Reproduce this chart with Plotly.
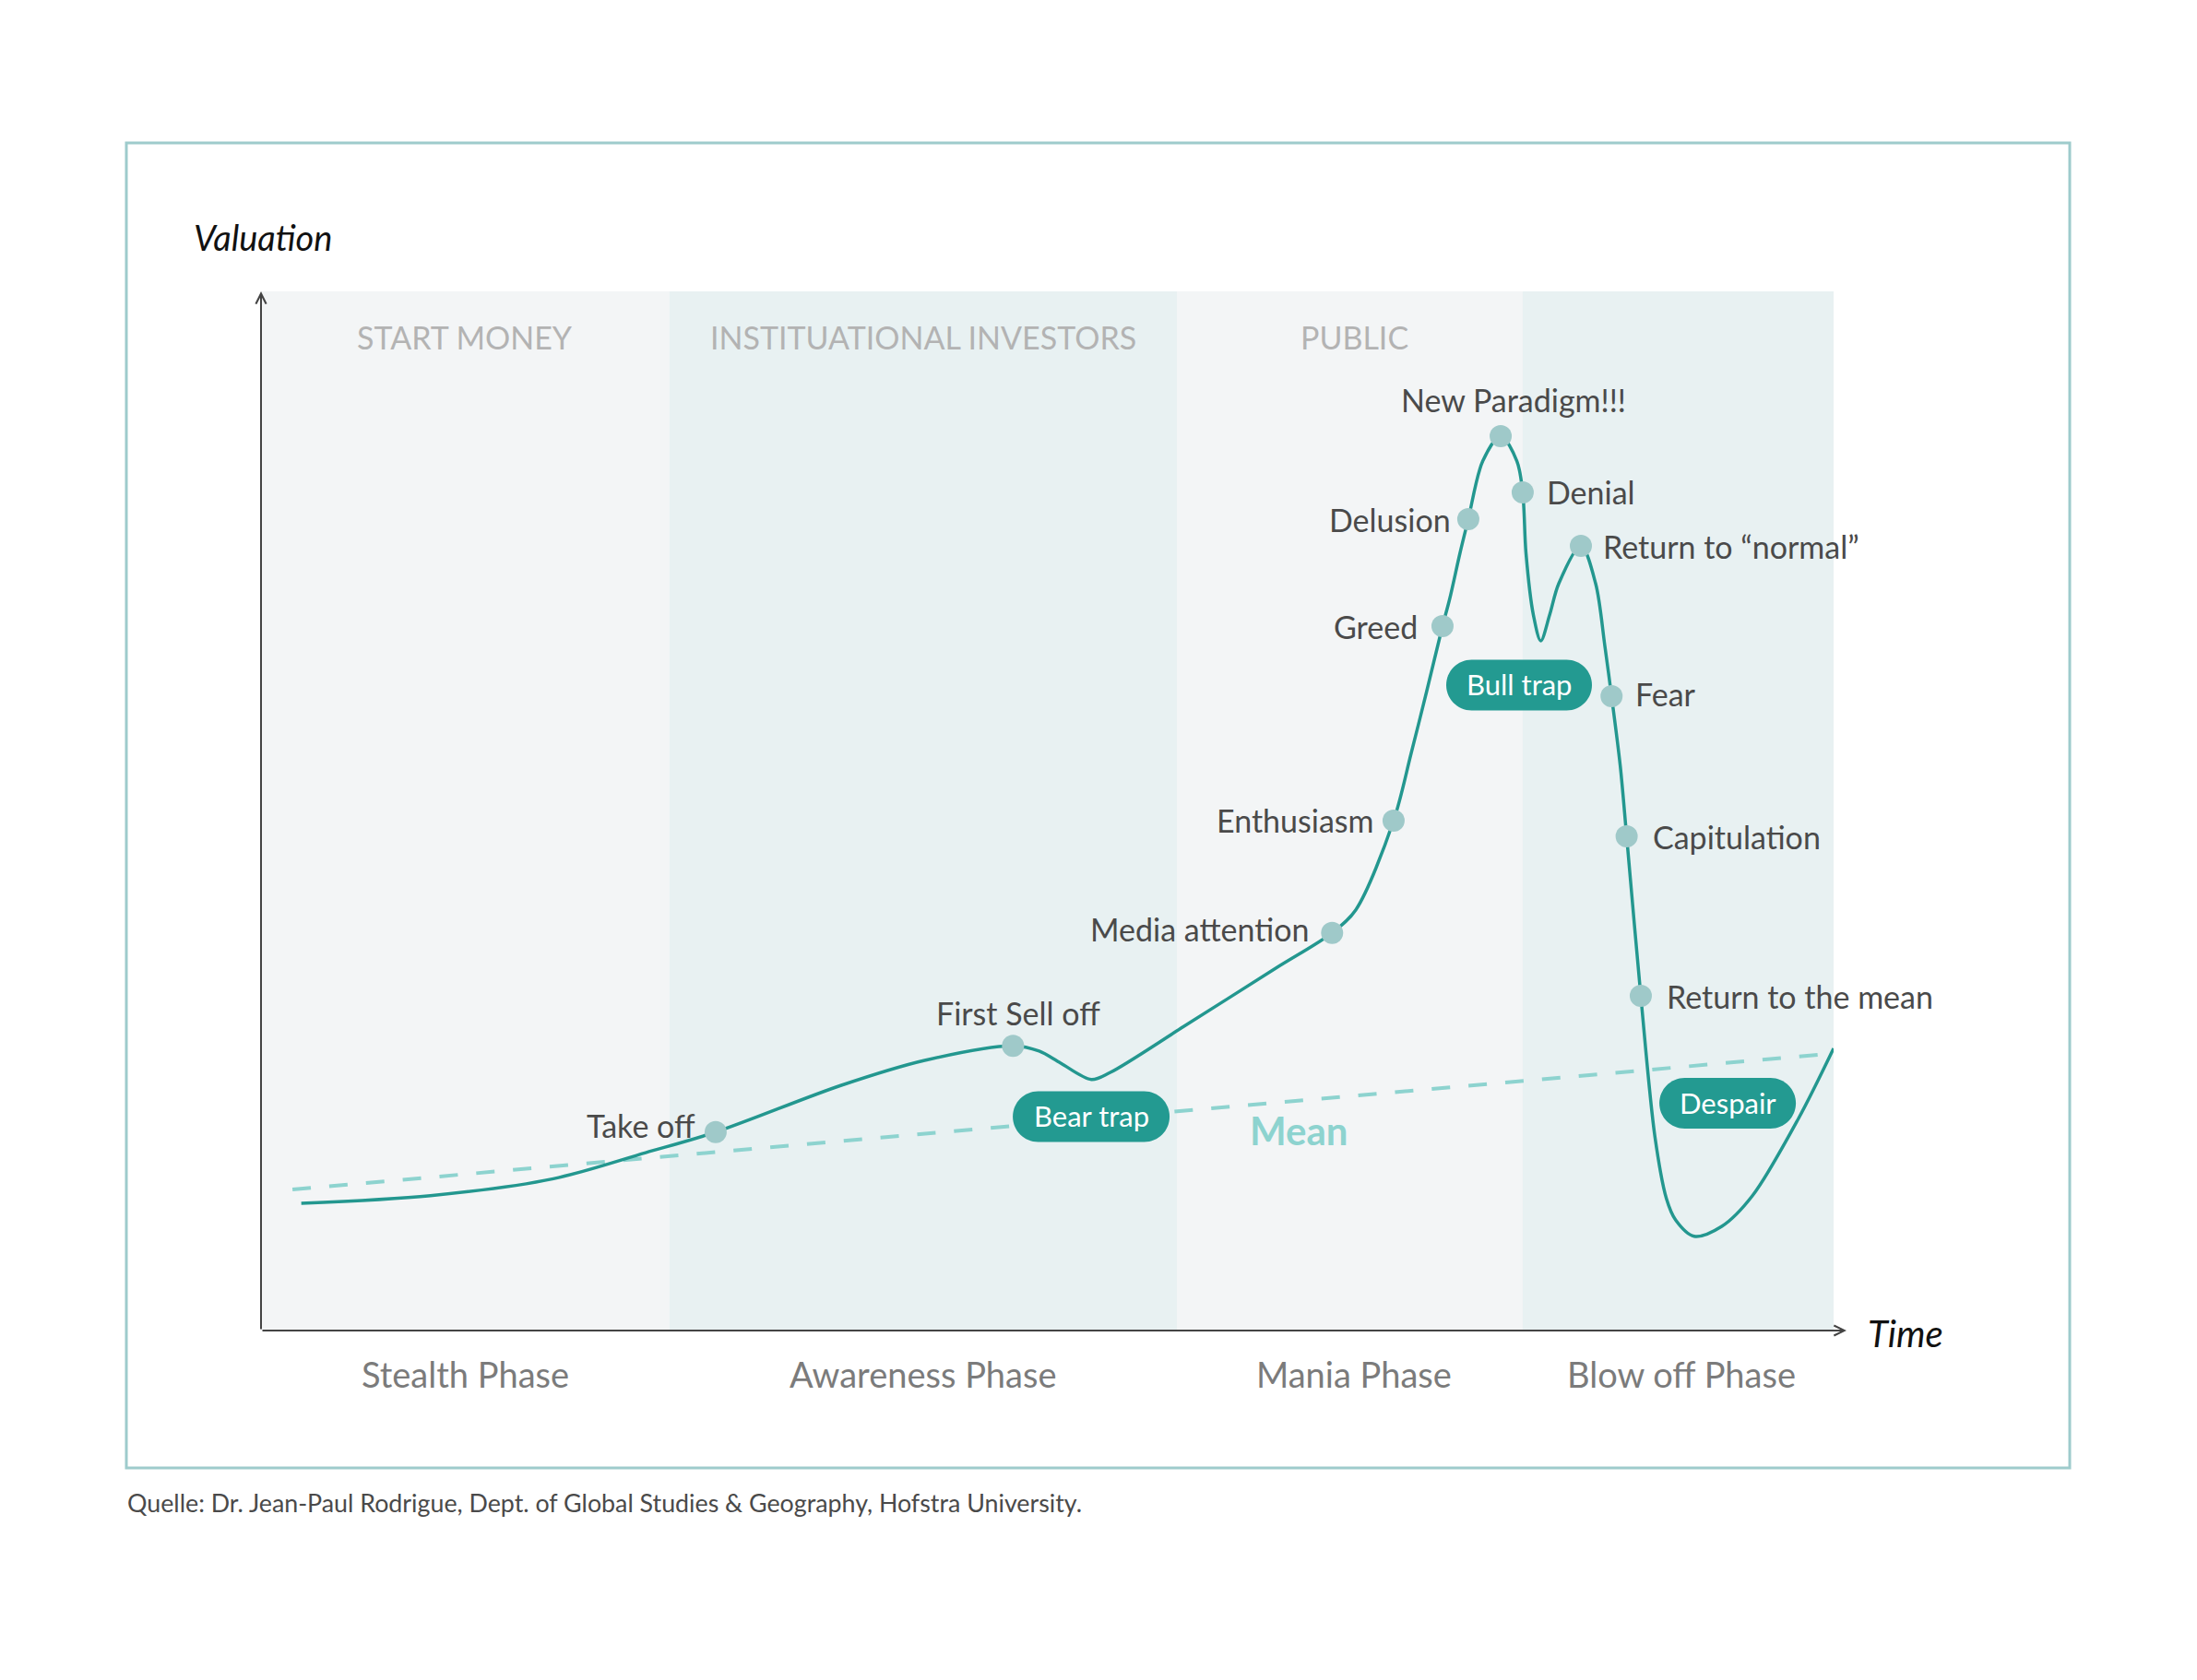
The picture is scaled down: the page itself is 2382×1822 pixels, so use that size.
import plotly.graph_objects as go

W, H = 2382, 1822

# ---------------- data ----------------
curve_x = [2.56, 10.77, 18.59, 24.46, 28.91, 36.86, 42.20, 47.82, 49.48, 50.85, 52.80,
           53.98, 58.67, 64.53, 68.11, 69.62, 72.02, 73.14, 74.12, 75.13, 75.58, 76.24,
           76.77, 77.69, 78.83, 79.86, 80.23, 80.44, 80.91, 81.38, 81.94, 82.52, 83.93,
           84.87, 85.45, 85.88, 86.43, 86.84, 87.74, 88.64, 89.37, 89.95, 91.13, 92.89,
           94.84, 97.77, 100.0]
curve_y = [12.24, 12.98, 14.61, 17.12, 19.10, 23.58, 26.00, 27.40, 26.89, 25.73, 24.16,
           24.82, 29.25, 34.87, 38.27, 40.49, 49.07, 55.57, 61.49, 67.79, 70.36, 74.80,
           78.08, 83.67, 86.07, 83.67, 80.66, 74.80, 68.85, 66.37, 68.85, 71.87, 75.51,
           71.87, 65.93, 61.05, 54.39, 47.56, 32.20, 18.63, 12.69, 10.65, 9.08, 10.03,
           12.98, 20.41, 27.15]

point_labels = ["Take off", "First Sell off", "Media attention", "Enthusiasm", "Greed",
                "Delusion", "New Paradigm!!!", "Denial", "Return to \u201cnormal\u201d", "Fear",
                "Capitulation", "Return to the mean"]
point_x = [28.91, 47.82, 68.11, 72.02, 75.13, 76.77, 78.83, 80.23, 83.93, 85.88, 86.84, 87.74]
point_y = [19.10, 27.40, 38.27, 49.07, 67.79, 78.08, 86.07, 80.66, 75.51, 61.05, 47.56, 32.20]

mean_x = [2.0, 100.0]
mean_y = [13.58, 26.66]

phase_bounds = [0, 25.98, 58.24, 80.23, 100]
investor_labels = ["START MONEY", "INSTITUATIONAL INVESTORS", "PUBLIC", ""]
phase_labels = ["Stealth Phase", "Awareness Phase", "Mania Phase", "Blow off Phase"]

trap_labels = ["Bear trap", "Bull trap", "Despair"]
trap_x = [52.79, 80.00, 93.26]
trap_y = [20.59, 62.11, 21.87]

mean_label = "Mean"
mean_label_x, mean_label_y = 65.98, 19.25

source_text = "Quelle: Dr. Jean-Paul Rodrigue, Dept. of Global Studies & Geography, Hofstra University."

# ---------------- styles ----------------
FONT = "Lato"
TEAL = "#23978f"
MARKER = "#9fc9c9"
MEANC = "#8dd3cf"
TEXT = "#4a4a4a"
BAND_COLORS = ["#f3f5f6", "#e8f1f2", "#f3f5f6", "#e8f1f2"]
BAND_LABEL_SHIFT = [0, 0, 5, 4]   # small pixel nudges of band captions

# label anchor / pixel offsets per point (style only)
label_style = {
    "Take off": ("right", -20, 7),
    "First Sell off": ("center", 6, 36),
    "Media attention": ("right", -22, 4),
    "Enthusiasm": ("right", -20, 0),
    "Greed": ("right", -25, 0),
    "Delusion": ("right", -17, 0),
    "New Paradigm!!!": ("center", 14, 39),
    "Denial": ("left", 24, 0),
    "Return to \u201cnormal\u201d": ("left", 22, 0),
    "Fear": ("left", 24, 2),
    "Capitulation": ("left", 26, 0),
    "Return to the mean": ("left", 26, 0),
}
trap_widths = {"Bear trap": 170, "Bull trap": 158, "Despair": 148}

# plot area in pixels
PX0, PX1 = 283, 1988
PY_TOP, PY_BOT = 316, 1443

fig = go.Figure()

fig.add_trace(go.Scatter(x=mean_x, y=mean_y, mode="lines",
                         line=dict(color=MEANC, width=4, dash="20px,20px"),
                         hoverinfo="skip", showlegend=False))
fig.add_trace(go.Scatter(x=curve_x, y=curve_y, mode="lines",
                         line=dict(color=TEAL, width=3.5, shape="spline", smoothing=0.9),
                         hoverinfo="skip", showlegend=False))
fig.add_trace(go.Scatter(x=point_x, y=point_y, mode="markers",
                         marker=dict(color=MARKER, size=24, line=dict(width=0)),
                         hoverinfo="skip", showlegend=False))

shapes = []
annotations = []

# bands
for i in range(4):
    shapes.append(dict(type="rect", xref="x", yref="y", x0=phase_bounds[i], x1=phase_bounds[i + 1],
                       y0=0, y1=100, fillcolor=BAND_COLORS[i], line=dict(width=0), layer="below"))
    xc = (phase_bounds[i] + phase_bounds[i + 1]) / 2
    if investor_labels[i]:
        annotations.append(dict(x=xc, y=95.57, xref="x", yref="y", text=investor_labels[i],
                                showarrow=False, xshift=BAND_LABEL_SHIFT[i],
                                font=dict(family=FONT, size=34, color="#b3b3b3")))
    annotations.append(dict(x=xc, y=1 - 1490 / H, xref="x", yref="paper", text=phase_labels[i],
                            showarrow=False, yanchor="middle", xshift=BAND_LABEL_SHIFT[i],
                            font=dict(family=FONT, size=38, color="#7b7b7b")))

# frame
shapes.append(dict(type="rect", xref="paper", yref="paper", x0=137 / W, x1=2244 / W,
                   y0=1 - 1592 / H, y1=1 - 155 / H, line=dict(color="#9ecbcc", width=3),
                   fillcolor="rgba(0,0,0,0)", layer="above"))

# pills
def pill_path(w, h):
    r = h / 2
    a = w / 2 - r
    k = 0.5523 * r
    return (f"M {-a},{-r} L {a},{-r} "
            f"C {a + k},{-r} {a + r},{-k} {a + r},0 "
            f"C {a + r},{k} {a + k},{r} {a},{r} "
            f"L {-a},{r} "
            f"C {-a - k},{r} {-a - r},{k} {-a - r},0 "
            f"C {-a - r},{-k} {-a - k},{-r} {-a},{-r} Z")

for lab, tx, ty in zip(trap_labels, trap_x, trap_y):
    shapes.append(dict(type="path", xref="x", yref="y", xsizemode="pixel", ysizemode="pixel",
                       xanchor=tx, yanchor=ty, path=pill_path(trap_widths[lab], 55),
                       fillcolor="#239a91", line=dict(width=0), layer="above"))
    annotations.append(dict(x=tx, y=ty, xref="x", yref="y", text=lab, showarrow=False,
                            yshift=1, font=dict(family=FONT, size=31, color="white")))

# point labels
for lab, px, py in zip(point_labels, point_x, point_y):
    anchor, dx, dy = label_style[lab]
    annotations.append(dict(x=px, y=py, xref="x", yref="y", text=lab, showarrow=False,
                            xanchor=anchor, yanchor="middle", xshift=dx, yshift=dy,
                            font=dict(family=FONT, size=34, color=TEXT)))

annotations.append(dict(x=mean_label_x, y=mean_label_y, xref="x", yref="y", text=f"<b>{mean_label}</b>",
                        showarrow=False, font=dict(family=FONT, size=42, color=MEANC)))

# axes arrows
xhead = (2002 - PX0) / (PX1 - PX0) * 100
annotations.append(dict(x=xhead, y=0, ax=0, ay=0, xref="x", yref="y", axref="x", ayref="y",
                        text="", showarrow=True, arrowhead=5, arrowsize=1.1, arrowwidth=2,
                        arrowcolor="#444444", standoff=0, startstandoff=0))
annotations.append(dict(x=0, y=100, ax=0, ay=0, xref="x", yref="y", axref="x", ayref="y",
                        text="", showarrow=True, arrowhead=5, arrowsize=1.1, arrowwidth=2,
                        arrowcolor="#444444", standoff=0, startstandoff=0))

annotations.append(dict(x=208 / W, y=1 - 257 / H, xref="paper", yref="paper", text="<i>Valuation</i>",
                        showarrow=False, xanchor="left", yanchor="middle",
                        font=dict(family=FONT, size=38, color="#111111")))
annotations.append(dict(x=2023 / W, y=1 - 1446 / H, xref="paper", yref="paper", text="<i>Time</i>",
                        showarrow=False, xanchor="left", yanchor="middle",
                        font=dict(family=FONT, size=40, color="#111111")))
annotations.append(dict(x=136 / W, y=1 - 1630 / H, xref="paper", yref="paper", text=source_text,
                        showarrow=False, xanchor="left", yanchor="middle",
                        font=dict(family=FONT, size=26.8, color=TEXT)))

fig.update_layout(
    width=W, height=H, margin=dict(l=0, r=0, t=0, b=0),
    paper_bgcolor="white", plot_bgcolor="rgba(0,0,0,0)",
    xaxis=dict(domain=[PX0 / W, PX1 / W], range=[0, 100], visible=False, fixedrange=True),
    yaxis=dict(domain=[1 - PY_BOT / H, 1 - PY_TOP / H], range=[0, 100], visible=False, fixedrange=True),
    shapes=shapes, annotations=annotations, showlegend=False,
)

fig.write_html("out.html", config={"displayModeBar": False})
